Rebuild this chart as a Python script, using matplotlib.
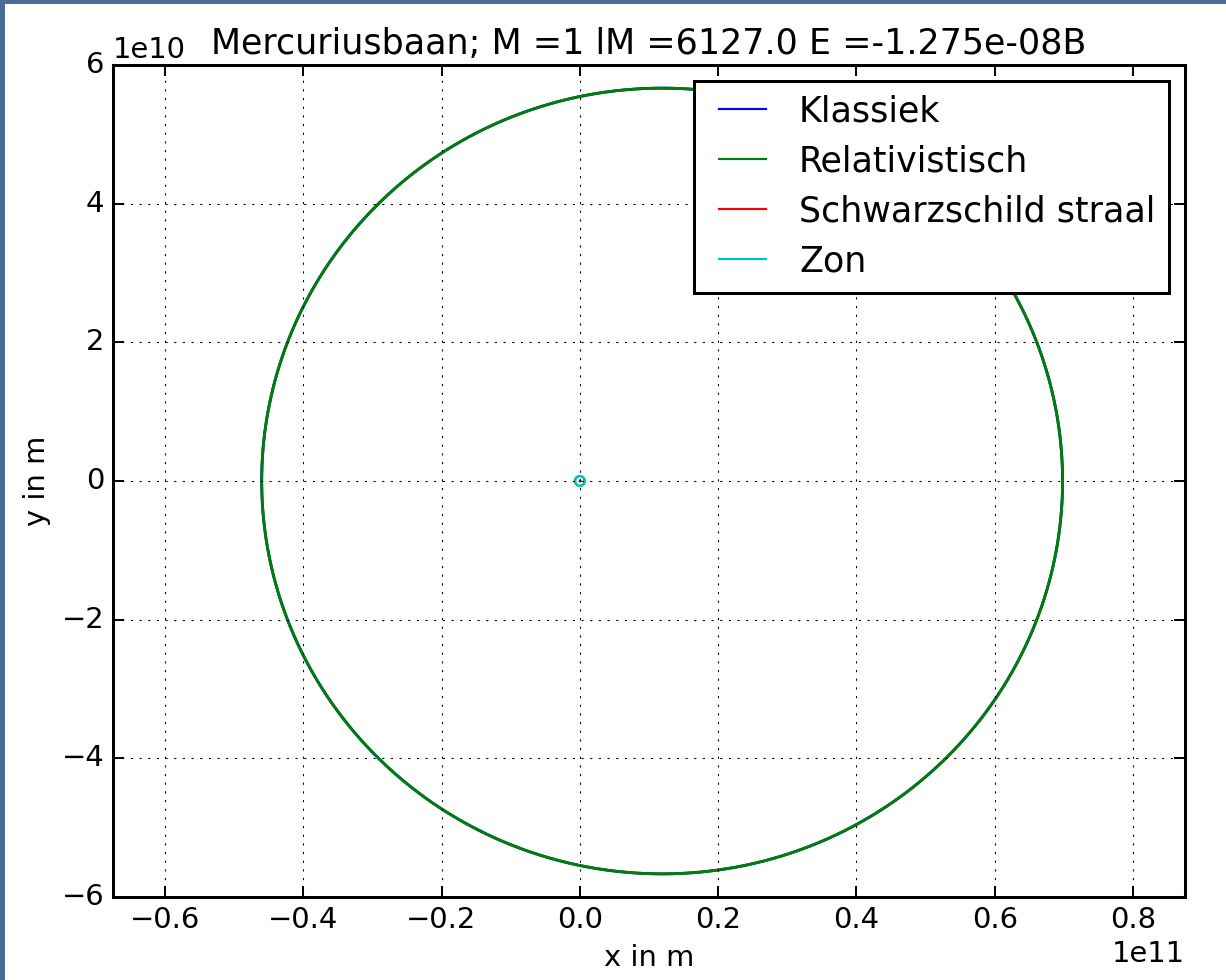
import numpy as np
import matplotlib
matplotlib.use("Agg")
import matplotlib.pyplot as plt
from matplotlib.patches import Rectangle

plt.style.use('classic')
plt.rcParams.update({
    'font.size': 13.4,
    'axes.linewidth': 1.4,
    'xtick.major.size': 5,
    'ytick.major.size': 5,
    'xtick.major.width': 0.9,
    'ytick.major.width': 0.9,
})

# Orbit data (metres)
perihelion = 4.60e10      # closest distance to the Sun
aphelion = 6.98e10        # farthest distance
sun_radius = 6.96e8       # Zon
schwarzschild_radius = 2953.0
series_labels = ["Klassiek", "Relativistisch", "Schwarzschild straal", "Zon"]
series_colors = ["b", "g", "r", "c"]
title_text = "Mercuriusbaan; M =1 lM =6127.0 E =-1.275e-08B"
xticks = [-0.6e11, -0.4e11, -0.2e11, 0.0, 0.2e11, 0.4e11, 0.6e11, 0.8e11]
yticks = [-6e10, -4e10, -2e10, 0, 2e10, 4e10, 6e10]

W, H, DPI = 1226, 980, 156
fig = plt.figure(figsize=(W / DPI, H / DPI), dpi=DPI, facecolor='white')

# screenshot frame (top and left bands)
fig.patches.append(Rectangle((0, 0), 5 / W, 1, transform=fig.transFigure,
                             facecolor='#4a6c96', edgecolor='none', zorder=-1))
fig.patches.append(Rectangle((0, 1 - 4 / H), 1, 4 / H, transform=fig.transFigure,
                             facecolor='#4a6c96', edgecolor='none', zorder=-1))

ax = fig.add_axes([113 / W, 1 - 897 / H, (1185 - 113) / W, (897 - 65) / H])

theta = np.linspace(0, 2 * np.pi, 2000)
a = (perihelion + aphelion) / 2
e = (aphelion - perihelion) / (aphelion + perihelion)
r = a * (1 - e ** 2) / (1 - e * np.cos(theta))

ax.plot(r * np.cos(theta), r * np.sin(theta), color=series_colors[0], label=series_labels[0], lw=1.3)
ax.plot(r * np.cos(theta), r * np.sin(theta), color=series_colors[1], label=series_labels[1], lw=1.3)
ax.plot(schwarzschild_radius * np.cos(theta), schwarzschild_radius * np.sin(theta),
        color=series_colors[2], label=series_labels[2], lw=1.2)
ax.plot(sun_radius * np.cos(theta), sun_radius * np.sin(theta),
        color=series_colors[3], label=series_labels[3], lw=1.2)

ax.set_xlim(-0.675e11, 0.875e11)
ax.set_ylim(-6e10, 6e10)
ax.set_xticks(xticks)
ax.set_yticks(yticks)
ax.ticklabel_format(axis='x', style='sci', scilimits=(11, 11))
ax.ticklabel_format(axis='y', style='sci', scilimits=(10, 10))
ax.grid(True)
ax.set_xlabel("x in m")
ax.set_ylabel("y in m")
ax.set_title(title_text)
leg = ax.legend(loc='upper right', labelspacing=0.46, borderaxespad=0.45,
                handlelength=1.95, handletextpad=0.65)
leg.get_frame().set_linewidth(1.4)
for h in leg.get_lines():
    h.set_linewidth(1.0)

fig.savefig("out.png", dpi=DPI, facecolor='white')
